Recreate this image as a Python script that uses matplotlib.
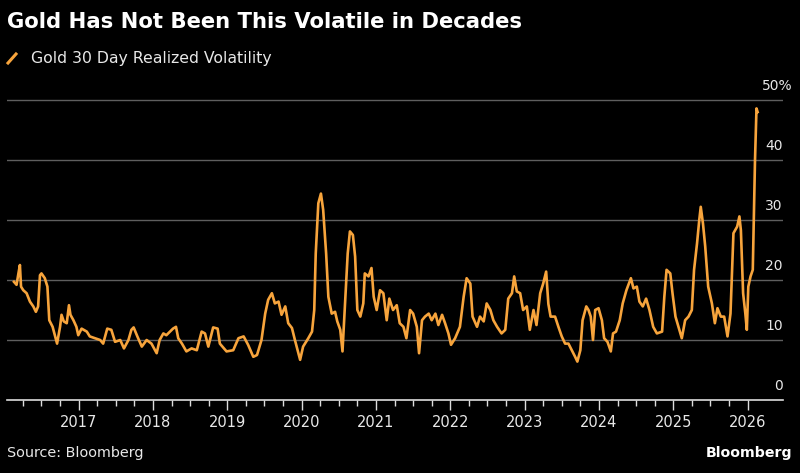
import matplotlib
matplotlib.use("Agg")
import matplotlib.pyplot as plt
from matplotlib.lines import Line2D
from matplotlib.transforms import blended_transform_factory

# === DATOS (x en años decimales) ===
t = [
    2016.13, 2016.165, 2016.19, 2016.21, 2016.225, 2016.255, 2016.30, 2016.345, 2016.39, 2016.425,
    2016.455, 2016.48, 2016.50, 2016.545, 2016.58, 2016.605, 2016.65, 2016.68, 2016.71, 2016.75,
    2016.77, 2016.80, 2016.84, 2016.87, 2016.89, 2016.93, 2016.97, 2016.995, 2017.04, 2017.11,
    2017.15, 2017.22, 2017.29, 2017.33, 2017.385, 2017.44, 2017.49, 2017.56, 2017.61, 2017.67,
    2017.71, 2017.74, 2017.79, 2017.85, 2017.915, 2017.98, 2018.05, 2018.09, 2018.14, 2018.18,
    2018.23, 2018.27, 2018.31, 2018.34, 2018.39, 2018.45, 2018.52, 2018.59, 2018.655, 2018.70,
    2018.745, 2018.81, 2018.87, 2018.90, 2018.99, 2019.08, 2019.15, 2019.22, 2019.28, 2019.35,
    2019.40, 2019.46, 2019.51, 2019.55, 2019.60, 2019.64, 2019.69, 2019.73, 2019.78, 2019.82,
    2019.87, 2019.91, 2019.98, 2020.02, 2020.09, 2020.14, 2020.17, 2020.19, 2020.225, 2020.26,
    2020.29, 2020.33, 2020.36, 2020.405, 2020.45, 2020.48, 2020.52, 2020.55, 2020.58, 2020.62,
    2020.65, 2020.69, 2020.72, 2020.75, 2020.79, 2020.83, 2020.85, 2020.90, 2020.94, 2020.97,
    2021.01, 2021.055, 2021.10, 2021.145, 2021.18, 2021.23, 2021.28, 2021.32, 2021.37, 2021.41,
    2021.46, 2021.50, 2021.55, 2021.58, 2021.62, 2021.66, 2021.71, 2021.75, 2021.80, 2021.84,
    2021.89, 2021.93, 2021.975, 2022.01, 2022.065, 2022.13, 2022.18, 2022.22, 2022.27, 2022.30,
    2022.36, 2022.40, 2022.45, 2022.49, 2022.54, 2022.58, 2022.63, 2022.69, 2022.74, 2022.78,
    2022.83, 2022.86, 2022.895, 2022.94, 2022.98, 2023.03, 2023.07, 2023.12, 2023.16, 2023.21,
    2023.25, 2023.29, 2023.32, 2023.35, 2023.41, 2023.455, 2023.50, 2023.545, 2023.59, 2023.635,
    2023.68, 2023.71, 2023.75, 2023.78, 2023.83, 2023.86, 2023.89, 2023.92, 2023.95, 2023.995,
    2024.04, 2024.07, 2024.115, 2024.16, 2024.19, 2024.23, 2024.28, 2024.32, 2024.37, 2024.43,
    2024.465, 2024.51, 2024.545, 2024.59, 2024.635, 2024.68, 2024.73, 2024.78, 2024.85, 2024.88,
    2024.91, 2024.96, 2024.99, 2025.03, 2025.07, 2025.115, 2025.16, 2025.205, 2025.25, 2025.28,
    2025.32, 2025.35, 2025.37, 2025.40, 2025.43, 2025.47, 2025.52, 2025.56, 2025.595, 2025.64,
    2025.685, 2025.73, 2025.77, 2025.81, 2025.86, 2025.89, 2025.91, 2025.94, 2025.97, 2025.99,
    2026.01, 2026.04, 2026.07, 2026.10, 2026.12, 2026.135,
]
vol = [
    19.7, 19.2, 21.1, 22.5, 18.9, 18.3, 17.8, 16.4, 15.6, 14.7,
    15.6, 20.8, 21.1, 20.3, 18.9, 13.3, 12.2, 10.8, 9.4, 12.2,
    14.2, 13.1, 12.8, 15.8, 14.2, 13.3, 12.2, 10.8, 11.9, 11.4,
    10.6, 10.3, 10.0, 9.4, 11.9, 11.7, 9.7, 10.0, 8.6, 10.0,
    11.7, 12.1, 10.6, 8.9, 10.0, 9.4, 7.8, 10.0, 11.1, 10.8,
    11.4, 11.9, 12.2, 10.3, 9.4, 8.1, 8.6, 8.3, 11.4, 11.1,
    8.9, 12.1, 11.9, 9.4, 8.1, 8.3, 10.3, 10.6, 9.2, 7.2,
    7.5, 10.0, 14.4, 16.7, 17.8, 16.1, 16.4, 14.2, 15.6, 12.8,
    12.0, 10.0, 6.7, 8.9, 10.3, 11.4, 15.0, 24.4, 32.8, 34.4,
    31.7, 24.4, 17.2, 14.4, 14.7, 13.1, 11.7, 8.1, 15.0, 24.4,
    28.1, 27.5, 23.9, 15.0, 13.9, 16.1, 21.1, 20.6, 22.0, 17.2,
    15.0, 18.3, 17.8, 13.3, 16.9, 15.0, 15.8, 12.8, 12.2, 10.3,
    15.0, 14.4, 12.2, 7.8, 13.3, 13.9, 14.4, 13.3, 14.4, 12.5,
    14.2, 12.8, 11.1, 9.2, 10.3, 12.2, 17.2, 20.3, 19.4, 13.9,
    12.2, 13.9, 13.1, 16.1, 15.0, 13.3, 12.2, 11.1, 11.7, 16.9,
    17.8, 20.6, 18.1, 17.8, 15.0, 15.6, 11.7, 15.0, 12.5, 17.8,
    19.4, 21.4, 16.0, 13.9, 13.9, 12.2, 10.6, 9.4, 9.4, 8.3,
    7.2, 6.4, 8.3, 13.3, 15.6, 15.0, 13.9, 10.0, 15.0, 15.3,
    13.3, 10.3, 9.7, 8.1, 11.1, 11.4, 13.3, 16.1, 18.3, 20.3,
    18.6, 18.9, 16.4, 15.6, 16.9, 15.0, 12.2, 11.1, 11.4, 17.2,
    21.7, 21.1, 17.8, 13.9, 12.2, 10.3, 13.3, 13.9, 15.0, 21.7,
    26.1, 30.0, 32.2, 29.4, 25.6, 18.9, 16.1, 12.8, 15.3, 13.9,
    13.9, 10.6, 14.4, 27.8, 28.9, 30.6, 28.3, 17.8, 14.4, 11.7,
    18.9, 20.6, 21.7, 40.0, 48.6, 48.0,
]

years = list(range(2017, 2027))
y_ticks = [0, 10, 20, 30, 40, 50]
y_labels = ["0", "10", "20", "30", "40", "50%"]

title = "Gold Has Not Been This Volatile in Decades"
series_name = "Gold 30 Day Realized Volatility"
source = "Source: Bloomberg"

# === ESTILO ===
bg = "#000000"
orange = "#f7a43c"
txt = "#e8e8e8"

fig = plt.figure(figsize=(8, 4.73), dpi=100, facecolor=bg)
ax = fig.add_axes([0.009, 0.1543, 0.9696, 0.6406], facecolor=bg)

ax.plot(t, vol, color=orange, lw=1.9, solid_joinstyle="round")

ax.set_xlim(2016.039, 2026.475)
ax.set_ylim(0, 50.5)

# ejes y grilla
for s in ["left", "right", "top"]:
    ax.spines[s].set_visible(False)
ax.spines["bottom"].set_color("#dcdcdc")
ax.spines["bottom"].set_linewidth(1.2)
ax.set_yticks(y_ticks[1:])
ax.tick_params(axis="y", length=0, labelleft=False)
ax.grid(axis="y", color="#5e5e5e", lw=1)

ax.set_xticks(years)
ax.set_xticklabels([str(y) for y in years])
ax.set_xticks([y + q for y in range(2016, 2026) for q in (0.25, 0.5, 0.75)], minor=True)
ax.tick_params(axis="x", which="major", length=7, width=1, color="#dcdcdc",
               labelcolor=txt, labelsize=10.5, pad=4)
ax.tick_params(axis="x", which="minor", length=4, width=1, color="#dcdcdc")

# etiquetas del eje y, a la derecha sobre cada línea
tr = blended_transform_factory(ax.transAxes, ax.transData)
for v, lab in zip(y_ticks, y_labels):
    x_lab = 1.0 if not lab.endswith("%") else 1.012
    ax.text(x_lab, v + 1.2, lab, transform=tr, ha="right", va="bottom",
            color=txt, fontsize=10)

# títulos y leyenda
fig.text(0.009, 1 - 22 / 473, title, color="white", fontsize=15.2,
         fontweight="bold", ha="left", va="center")
fig.add_artist(Line2D([8 / 800, 16 / 800], [1 - 63 / 473, 1 - 54 / 473],
                      color=orange, lw=2.2, transform=fig.transFigure))
fig.text(31 / 800, 1 - 58 / 473, series_name, color=txt, fontsize=11.3,
         ha="left", va="center")

fig.text(0.009, 1 - 453 / 473, source, color=txt, fontsize=10.4,
         ha="left", va="center")
fig.text(792 / 800, 1 - 453 / 473, "Bloomberg", color="white", fontsize=10.2,
         fontweight="bold", ha="right", va="center")

fig.savefig("out.png", dpi=100, facecolor=bg)
